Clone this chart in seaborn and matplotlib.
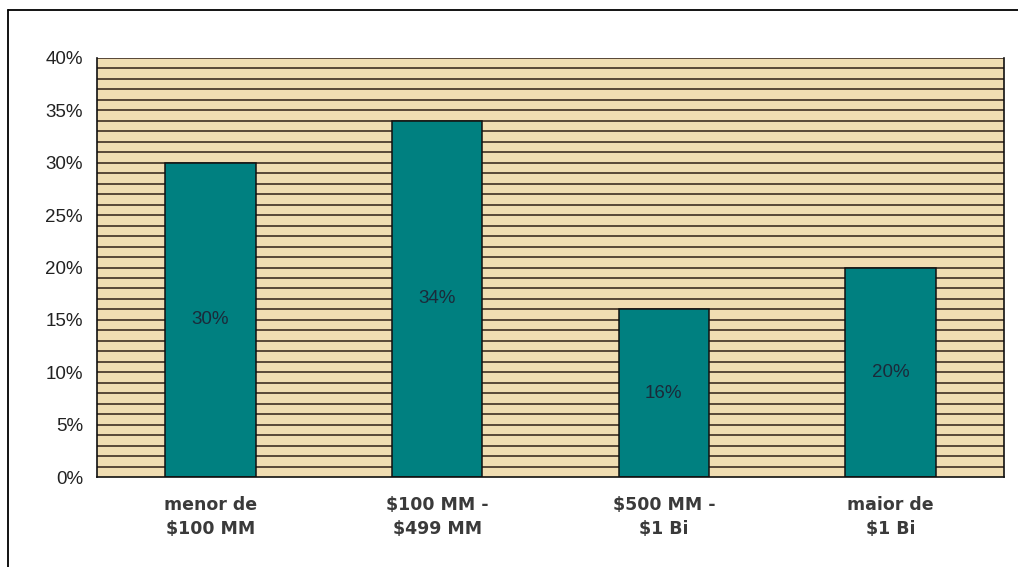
import matplotlib
matplotlib.use("Agg")
import matplotlib.pyplot as plt
from matplotlib.lines import Line2D
from matplotlib.ticker import MultipleLocator, FixedLocator, PercentFormatter
import pandas as pd
import seaborn as sns

# Revenue bands and share of companies in each band (percent)
categories = ["menor de\n$100 MM", "$100 MM -\n$499 MM", "$500 MM -\n$1 Bi", "maior de\n$1 Bi"]
shares = [30, 34, 16, 20]
value_labels = ["30%", "34%", "16%", "20%"]

df = pd.DataFrame({"faixa": categories, "share": shares})

sns.set_theme(style="white")
plt.rcParams["font.family"] = ["Liberation Sans", "DejaVu Sans"]

fig = plt.figure(figsize=(10.18, 5.67), dpi=100)
fig.patch.set_facecolor("white")
ax = fig.add_axes([97 / 1018, 90 / 567, 907 / 1018, 419 / 567])
ax.set_facecolor("#F0DDB2")

sns.barplot(data=df, x="faixa", y="share", ax=ax, color="#008080",
            width=0.4, edgecolor="#111111", linewidth=1.1, saturation=1,
            zorder=3)

ax.set_ylim(0, 40)
ax.set_xlim(-0.5, len(categories) - 0.5)

# Dense horizontal grid every 1%
ax.yaxis.set_major_locator(MultipleLocator(5))
ax.yaxis.set_major_formatter(PercentFormatter(decimals=0))
ax.grid(False)
for v in range(1, 41):
    ax.axhline(v, color="#2e1f16", linewidth=1.1, zorder=1)

# Category labels centred, ticks at the boundaries between categories
ax.xaxis.set_minor_locator(FixedLocator([i - 0.5 for i in range(len(categories) + 1)]))
ax.tick_params(axis="x", which="major", length=0, pad=14)
ax.tick_params(axis="x", which="minor", length=5, width=1.1, color="black", direction="out")
ax.tick_params(axis="y", which="major", length=5, width=1.1, color="black",
               direction="out", labelsize=13.5, pad=5)
ax.tick_params(axis="y", which="minor", length=0)
ax.tick_params(axis="y", labelcolor="#222222")
for lbl in ax.get_xticklabels():
    lbl.set_fontfamily(["DejaVu Sans"])
    lbl.set_fontweight("bold")
    lbl.set_fontsize(12.5)
    lbl.set_color("#3a3a3a")
    lbl.set_linespacing(1.4)

ax.set_xlabel("")
ax.set_ylabel("")

ax.spines["top"].set_visible(False)
for side in ["left", "bottom", "right"]:
    ax.spines[side].set_color("#111111")
    ax.spines[side].set_linewidth(1.2)
    ax.spines[side].set_zorder(4)

# Value labels in the middle of each bar
for i, (val, txt) in enumerate(zip(shares, value_labels)):
    ax.text(i, val / 2, txt, ha="center", va="center", fontsize=13.5,
            color="#1b2a3a", zorder=5)

# Outer chart frame (left and top edges visible)
fig.add_artist(Line2D([8 / 1018, 8 / 1018], [0, 1 - 10 / 567], transform=fig.transFigure,
                      color="black", linewidth=1.3))
fig.add_artist(Line2D([8 / 1018, 1], [1 - 10 / 567, 1 - 10 / 567], transform=fig.transFigure,
                      color="black", linewidth=1.3))

fig.savefig("out.png", dpi=100, facecolor="white")
